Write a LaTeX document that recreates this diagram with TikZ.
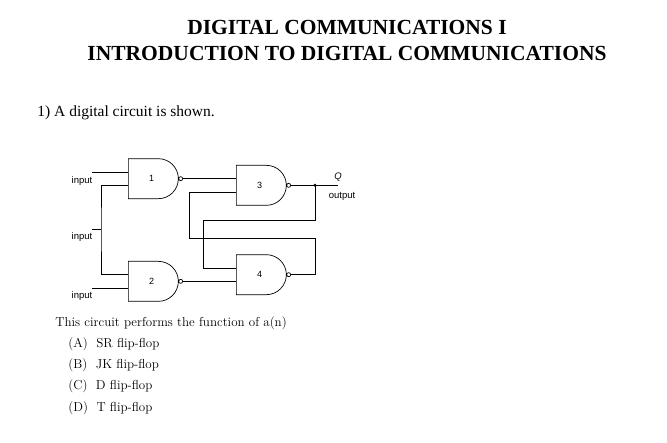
\documentclass[tikz,border=0pt]{standalone}
\usepackage{fontspec}
\setmainfont{Liberation Serif}
\newfontfamily\cmfont{Latin Modern Roman}
\newfontfamily\labelfont{Liberation Sans}
\usetikzlibrary{shapes.gates.logic.US,positioning,calc}

\begin{document}
\begin{tikzpicture}[x=1pt,y=-1pt,thick,
    gate/.style={nand gate US, draw, logic gate inputs=nn, minimum width=50pt, minimum height=23pt, inner sep=0pt, font=\labelfont\fontsize{9}{10}\selectfont, line width=0.7pt},
    wire/.style={line width=0.7pt},
    lbl/.style={font=\labelfont\fontsize{9.5}{11}\selectfont, inner sep=1pt},
    opt/.style={font=\cmfont\fontsize{13}{15}\selectfont, anchor=west, inner sep=0pt}]
        \useasboundingbox (0,0) rectangle (667,442);

        \node[font=\bfseries\fontsize{21.5}{24}\selectfont] (title-a) at (347,27) {DIGITAL COMMUNICATIONS I};
        \node[font=\bfseries\fontsize{21.5}{24}\selectfont] (title-b) at (347,53) {INTRODUCTION TO DIGITAL COMMUNICATIONS};
        \node[anchor=west, font=\fontsize{15.5}{17}\selectfont, inner sep=0pt] (question) at (37,113) {1) A digital circuit is shown.};

        % gates
        \node[gate, anchor=input 1] (g1) at (128,172) {1};
        \node[gate, anchor=input 2] (g2) at (128,288) {2};
        \node[gate, anchor=input 1] (g3) at (g1.output -| 236,0) {3};
        \node[gate, anchor=input 2] (g4) at (g2.output -| 236,0) {4};

        \coordinate (in-a) at (92,0 |- g1.input 1);
        \coordinate (in-b) at (92,229);
        \coordinate (in-c) at (92,0 |- g2.input 2);
        \coordinate (split) at (101,229);
        \coordinate (q-dot) at (315,0 |- g3.output);
        \coordinate (q-end) at (338,0 |- g3.output);

        \draw[wire] (in-a) -- (g1.input 1);
        \draw[wire] (in-c) -- (g2.input 2);
        \draw[wire] (in-b) -- (split);
        \draw[wire] (g1.input 2) -| (split) |- (g2.input 1);

        \draw[wire] (g1.output) -- (g3.input 1);
        \draw[wire] (g2.output) -- (g4.input 2);
        \draw[wire] (g3.output) -- (q-end);
        \fill (q-dot) circle (1.6);

        % cross-coupling
        \draw[wire] (q-dot) -- (315,220) -| (203,0 |- g4.input 1) -- (g4.input 1);
        \draw[wire] (g4.output) -| (315,238) -| (189,0 |- g3.input 2) -- (g3.input 2);

        \node[lbl] (lbl-a) at (82,181) {input};
        \node[lbl] (lbl-b) at (82,237) {input};
        \node[lbl] (lbl-c) at (82,296) {input};
        \node[lbl, font=\labelfont\fontsize{9.5}{11}\selectfont\itshape] (lbl-q) at (338,177) {Q};
        \node[lbl] (lbl-out) at (342,196) {output};

        \node[opt] (ask) at (55,323) {This circuit performs the function of a(n)};
        \node[opt] (opt-a) at (68,344) {(A)\ \ SR flip-flop};
        \node[opt] (opt-b) at (68,365) {(B)\ \ JK flip-flop};
        \node[opt] (opt-c) at (68,386) {(C)\ \ D flip-flop};
        \node[opt] (opt-d) at (68,408) {(D)\ \ T flip-flop};
\end{tikzpicture}
\end{document}
